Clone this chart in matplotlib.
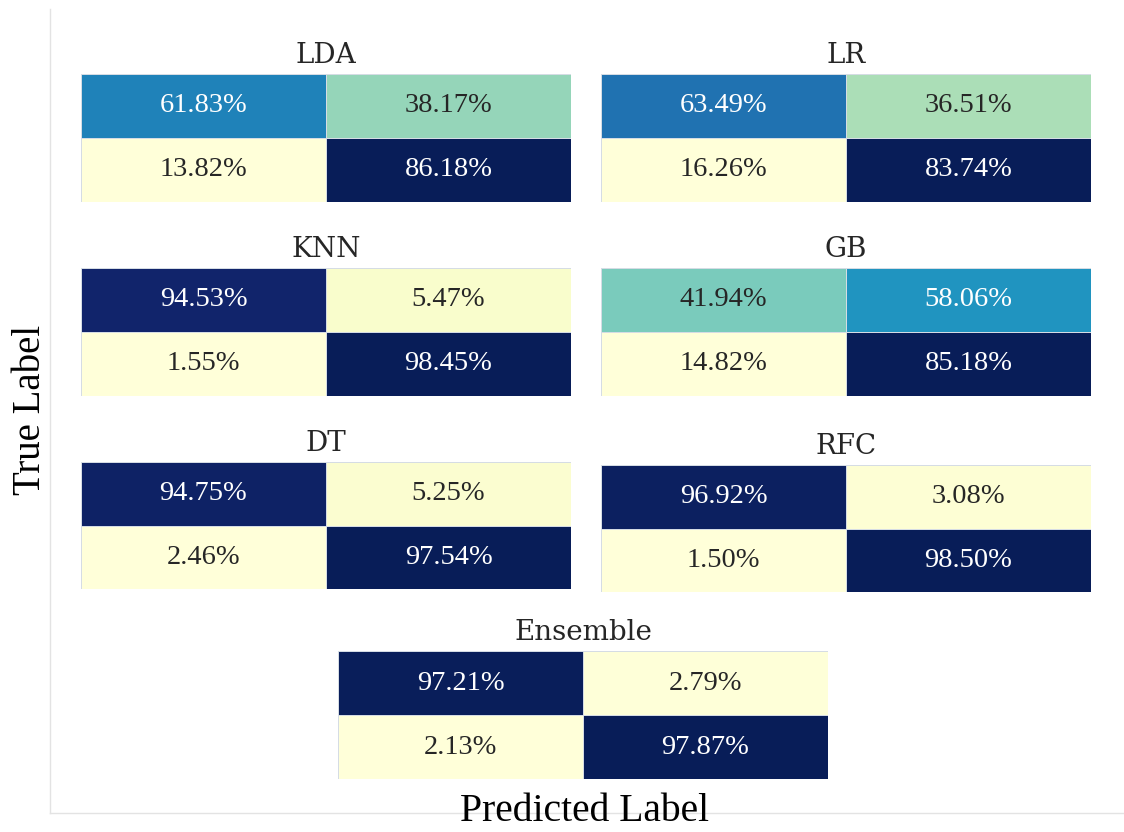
import matplotlib
matplotlib.use('Agg')
import matplotlib.pyplot as plt
import seaborn as sns
import numpy as np

# normalised confusion matrices (%), rows = true label, cols = predicted label
models = ["LDA", "LR", "KNN", "GB", "DT", "RFC", "Ensemble"]
lda = [[61.83, 38.17], [13.82, 86.18]]
lr = [[63.49, 36.51], [16.26, 83.74]]
knn = [[94.53, 5.47], [1.55, 98.45]]
gb = [[41.94, 58.06], [14.82, 85.18]]
dt = [[94.75, 5.25], [2.46, 97.54]]
rfc = [[96.92, 3.08], [1.50, 98.50]]
ens = [[97.21, 2.79], [2.13, 97.87]]
matrices = [lda, lr, knn, gb, dt, rfc, ens]

W, H = 1124, 832
# panel boxes in pixels: left, top, right, bottom
boxes = [(81, 74, 571, 202), (601, 74, 1091, 202),
         (81, 268, 571, 396), (601, 268, 1091, 396),
         (81, 462, 571, 589), (601, 465, 1091, 592),
         (338, 651, 828, 779)]

fig = plt.figure(figsize=(W / 100, H / 100), dpi=100)

# light frame behind all panels
bg = fig.add_axes([50 / W, 1 - 813 / H, (W - 50) / W, (813 - 9) / H])
bg.set_xticks([])
bg.set_yticks([])
for s in ["top", "right"]:
    bg.spines[s].set_visible(False)
for s in ["left", "bottom"]:
    bg.spines[s].set_color("#e3e3e3")
    bg.spines[s].set_linewidth(1.0)
bg.patch.set_alpha(0)

for name, m, (l, t, r, b) in zip(models, matrices, boxes):
    ax = fig.add_axes([l / W, 1 - b / H, (r - l) / W, (b - t) / H])
    vals = np.array(m)
    labels = np.array([[f"{v:.2f}%" for v in row] for row in m])
    sns.heatmap(vals, ax=ax, cmap="YlGnBu", cbar=False, annot=labels, fmt="",
                linewidths=0.5, linecolor="#d5dce4",
                annot_kws={"fontsize": 20.5, "family": "Liberation Serif"})
    ax.set_xticks([])
    ax.set_yticks([])
    ax.set_title(name, fontsize=20, family="DejaVu Serif", color="#262626", pad=8)

fig.text(30 / W, 1 - 410 / H, "True Label", rotation=90, ha="center", va="center",
         fontsize=28, family="Liberation Serif")
fig.text(585 / W, 2 / H, "Predicted Label", ha="center", va="bottom",
         fontsize=28.5, family="Liberation Serif")

fig.savefig("out.png", dpi=100)
